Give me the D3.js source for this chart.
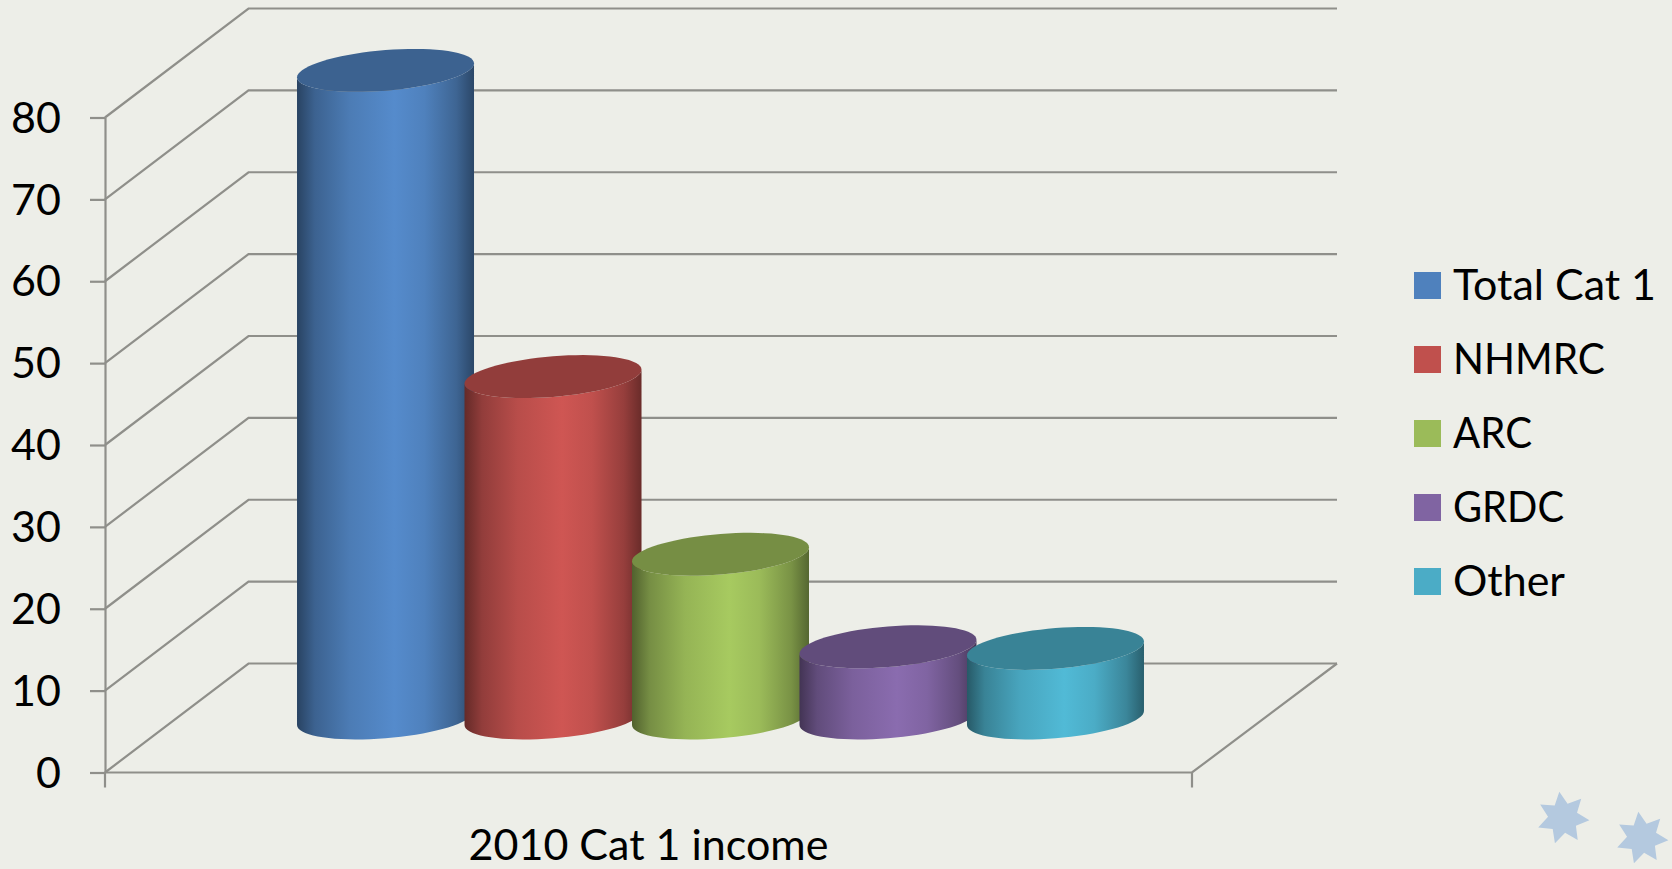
<!DOCTYPE html>
<html>
<head>
<meta charset="utf-8">
<script src="https://cdn.jsdelivr.net/npm/d3@7/dist/d3.min.js"></script>
<style>
html,body{margin:0;padding:0;background:#edeee8;overflow:hidden}
text{font-family:Lato,"Open Sans",sans-serif;fill:#000}
</style>
</head>
<body>
<svg id="chart" width="1672" height="869"></svg>
<script>
// Chart data
const categoryLabel = "2010 Cat 1 income";
const seriesNames = ["Total Cat 1", "NHMRC", "ARC", "GRDC", "Other"];
const seriesValues = [79.1, 41.7, 20.0, 8.7, 8.5];
const seriesColors = ["#4f81bd", "#c0504d", "#9bbb59", "#8064a2", "#4bacc6"];
const legendTextWidths = [203, 152, 79, 111, 112];
const axisTicks = [0, 10, 20, 30, 40, 50, 60, 70, 80];

// Projection of the 3D box: front plane plus a depth offset
const frontLeft = 105, frontRight = 1192, baseY = 772.5, topY = 117.5;
const backLeft = 248.5, backRight = 1337, depthY = 109;

const svg = d3.select("#chart");
const y = d3.scaleLinear().domain([0, 80]).range([baseY, topY]);
const x = d3.scaleBand().domain(seriesNames).range([frontLeft, frontRight])
  .paddingInner(0).paddingOuter(0.745);

const grid = "#8f8f8a";

// Walls and floor
const walls = svg.append("g").attr("fill", "none").attr("stroke", grid).attr("stroke-width", 2.2);
walls.selectAll("path.grid").data(axisTicks).join("path").attr("class", "grid")
  .attr("d", v => d3.line()([
    [frontLeft, y(v)],
    [backLeft, y(v) - depthY],
    [backRight, y(v) - depthY]
  ]));
walls.append("path").attr("d", d3.line()([
  [frontLeft, baseY], [frontRight, baseY],
  [backRight, baseY - depthY]
]));

// Value axis on the front-left edge
const yAxis = svg.append("g").attr("transform", `translate(${frontLeft},0)`)
  .call(d3.axisLeft(y).tickValues(axisTicks).tickSize(15).tickPadding(29).tickSizeOuter(0));
yAxis.selectAll("path,line").attr("stroke", grid).attr("stroke-width", 2.2);
yAxis.selectAll("text").attr("font-size", 43).attr("dy", "0.34em")
  .style("font-family", "Lato").attr("fill", "#000");

// Category axis: a single category, so only the two end ticks
svg.append("g").attr("stroke", grid).attr("stroke-width", 2.2)
  .selectAll("line").data([frontLeft, frontRight]).join("line")
  .attr("x1", d => d).attr("x2", d => d).attr("y1", baseY).attr("y2", baseY + 15);
svg.append("text").attr("x", (frontLeft + frontRight) / 2).attr("y", 859.5)
  .attr("text-anchor", "middle").attr("font-size", 43).text(categoryLabel);

// Cylinders
const halfWidth = 88.5, skew = -7, minor = 20.3;
const shadeStops = [[0, .52], [.1, .76], [.3, .96], [.55, 1.08], [.72, 1.0], [.9, .78], [1, .55]];
const shade = (c, k) => {
  const r = d3.rgb(c);
  return d3.rgb(Math.min(255, r.r * k), Math.min(255, r.g * k), Math.min(255, r.b * k)).formatHex();
};
const defs = svg.append("defs");
seriesNames.forEach((name, i) => {
  const g = defs.append("linearGradient").attr("id", "side" + i)
    .attr("x1", 0).attr("x2", 1).attr("y1", 0).attr("y2", 0);
  shadeStops.forEach(([o, k]) => g.append("stop").attr("offset", o).attr("stop-color", shade(seriesColors[i], k)));
});

const ellipsePoint = (cx, cy, t) => [cx + halfWidth * Math.cos(t), cy + skew * Math.cos(t) + minor * Math.sin(t)];
const angles = d3.range(0, 73).map(k => k * Math.PI * 2 / 72);
const lowerAngles = angles.filter(t => t <= Math.PI + 1e-9);

const bars = svg.append("g").selectAll("g").data(seriesNames).join("g");
bars.each(function (name, i) {
  const cx = x(name) + x.bandwidth() / 2 + 72;
  const topCy = y(seriesValues[i]) - depthY / 2;
  const baseCy = y(0) - depthY / 2;
  const side = [
    ...lowerAngles.map(t => ellipsePoint(cx, baseCy, t)),
    ...[...lowerAngles].reverse().map(t => ellipsePoint(cx, topCy, t))
  ];
  const g = d3.select(this);
  g.append("path").attr("d", d3.line()(side) + "Z").attr("fill", `url(#side${i})`);
  g.append("path").attr("d", d3.line()(angles.map(t => ellipsePoint(cx, topCy, t))) + "Z")
    .attr("fill", shade(seriesColors[i], .76));
});

// Legend
const legendY = d3.scalePoint().domain(seriesNames).range([285.5, 581.5]);
const legend = svg.append("g").selectAll("g").data(seriesNames).join("g")
  .attr("transform", d => `translate(1414,${legendY(d)})`);
legend.append("rect").attr("x", 0).attr("y", -13.5).attr("width", 27).attr("height", 27)
  .attr("fill", (d, i) => seriesColors[i]);
legend.append("text").attr("x", 39).attr("y", 14).attr("font-size", 43)
  .attr("textLength", (d, i) => legendTextWidths[i]).attr("lengthAdjust", "spacingAndGlyphs")
  .text(d => d);

// Decorative seven-pointed stars in the corner
const starCenters = [[1563, 818], [1642, 838]];
const starPoints = d3.range(14).map(k => [k % 2 ? 15 : 26.5, (-98 + k * 180 / 7) * Math.PI / 180]);
svg.append("g").selectAll("polygon").data(starCenters).join("polygon")
  .attr("fill", "#b4c9df")
  .attr("points", c => starPoints.map(([r, a]) => [c[0] + r * Math.cos(a), c[1] + r * Math.sin(a)].join(",")).join(" "));
</script>
</body>
</html>
